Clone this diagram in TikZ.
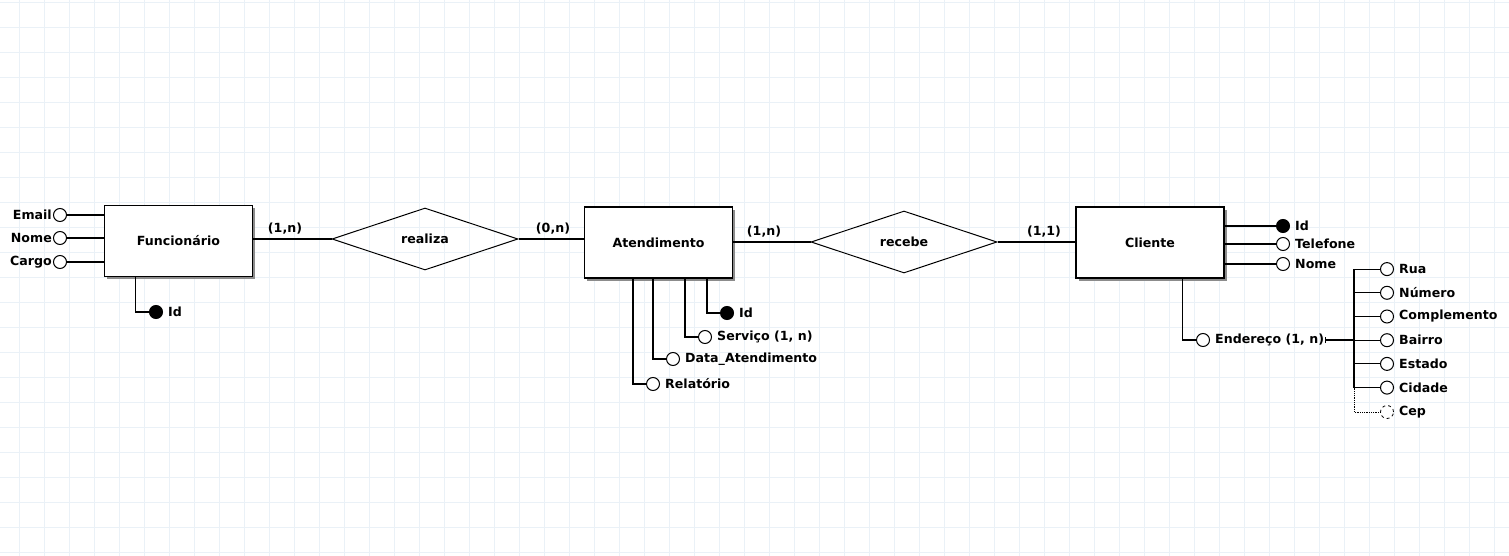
\documentclass[tikz,border=0pt]{standalone}
\usepackage{fontspec}
\setmainfont{DejaVu Sans}
\usepackage{tikz}
\usetikzlibrary{calc}
\usetikzlibrary{arrows.meta}
\usetikzlibrary{shapes.geometric}
\usetikzlibrary{shadows}
\usetikzlibrary{positioning}
\definecolor{gradeazul}{RGB}{234,241,247}
\newcommand{\rotulofonte}{\bfseries\fontsize{12.6}{15}\selectfont}
\tikzset{
  entidade/.style={draw, line width=1.1pt, fill=white, minimum width=148, minimum height=71,
    font=\rotulofonte, drop shadow={shadow xshift=2.5pt, shadow yshift=-2.5pt, fill=black!45, opacity=1}},
  relacao/.style={diamond, draw, line width=1pt, aspect=3, minimum width=186, minimum height=62,
    inner sep=0, font=\rotulofonte},
  atributo/.style={circle, draw, line width=1pt, fill=white, minimum size=13, inner sep=0},
  chave/.style={atributo, fill=black},
  rotulo/.style={font=\rotulofonte, inner sep=1},
  ligacao/.style={line width=1.1pt},
}

\begin{document}
\begin{tikzpicture}[x=1pt, y=-1pt]
    \useasboundingbox (0,0) rectangle (1509,556);
    \foreach \gx in {19.5,44.5,...,1509} \draw[gradeazul] (\gx,0) -- (\gx,556);
    \foreach \gy in {2,27,...,556} \draw[gradeazul] (0,\gy) -- (1509,\gy);

    \node[entidade] (func) at (178.5,241) {Funcionário};
    \node[entidade] (atend) at (658.5,242.5) {Atendimento};
    \node[entidade] (cli) at (1150,242.5) {Cliente};
    \node[relacao] (realiza) at (425,239) {realiza};
    \node[relacao] (recebe) at (904,242) {recebe};

    \draw[ligacao] (realiza.west) -- (realiza.west -| func.east);
    \draw[ligacao] (realiza.east) -- (realiza.east -| atend.west);
    \draw[ligacao] (recebe.west) -- (recebe.west -| atend.east);
    \draw[ligacao] (recebe.east) -- (recebe.east -| cli.west);
    \node[rotulo] (card1) at (285,229) {(1,n)};
    \node[rotulo] (card2) at (553,229) {(0,n)};
    \node[rotulo] (card3) at (764,232) {(1,n)};
    \node[rotulo] (card4) at (1044,232) {(1,1)};

    % Funcionario
    \foreach \nm/\yy/\tx in {femail/215/Email, fnome/238/Nome, fcargo/262/Cargo} {
      \node[atributo] (\nm) at (60,\yy) {};
      \node[rotulo, left=0pt of \nm] (l\nm) {\tx};
      \draw[ligacao] (\nm.east) -- (\nm.east -| func.west);
    }
    \node[chave] (fid) at (156,312) {};
    \node[rotulo, right=4pt of fid] (lfid) {Id};
    \draw[ligacao] (fid.west) -| ([xshift=31.5pt]func.south west);

    % Atendimento
    \foreach \nm/\xx/\yy/\dx/\tx in {aserv/705/337/101/{Serviço (1, n)}, adata/673/359/69/Data\_Atendimento, arel/653/384/49/Relatório} {
      \node[atributo] (\nm) at (\xx,\yy) {};
      \node[rotulo, right=4pt of \nm] (l\nm) {\tx};
      \draw[ligacao] (\nm.west) -| ([xshift=\dx pt]atend.south west);
    }
    \node[chave] (aid) at (727,313) {};
    \node[rotulo, right=4pt of aid] (laid) {Id};
    \draw[ligacao] (aid.west) -| ([xshift=123pt]atend.south west);

    % Cliente
    \node[chave] (cid) at (1283,226) {};
    \node[rotulo, right=4pt of cid] (lcid) {Id};
    \node[atributo] (ctel) at (1283,244) {};
    \node[rotulo, right=4pt of ctel] (lctel) {Telefone};
    \node[atributo] (cnome) at (1283,264) {};
    \node[rotulo, right=4pt of cnome] (lcnome) {Nome};
    \foreach \nm in {cid,ctel,cnome}
      \draw[ligacao] (\nm.west) -- (\nm.west -| cli.east);
    \node[atributo] (cend) at (1203,340) {};
    \node[rotulo, right=4pt of cend] (lcend) {Endereço (1, n)};
    \draw[ligacao] (cend.west) -| ([xshift=107pt]cli.south west);

    \coordinate (barra) at (1354,269);
    \foreach \tx [count=\i] in {Rua,Número,Complemento,Bairro,Estado,Cidade} {
      \node[atributo] (end\i) at (1387,{245.4+23.7*\i}) {};
      \node[rotulo, right=4pt of end\i] (lend\i) {\tx};
      \draw[ligacao] (end\i.west) -- (end\i.west -| barra);
    }
    \draw[ligacao] (barra) -- (barra |- end6);
    \node[atributo, dashed, line width=.8pt] (cep) at (1387,412) {};
    \node[rotulo, right=4pt of cep] (lcep) {Cep};
    \draw[densely dotted, line width=.8pt] (barra |- end6) |- (cep.west);
    \draw[{Bar[width=6pt,line width=.8pt]}-, line width=1.6pt] (lcend.east) -- (lcend.east -| barra);
\end{tikzpicture}
\end{document}
